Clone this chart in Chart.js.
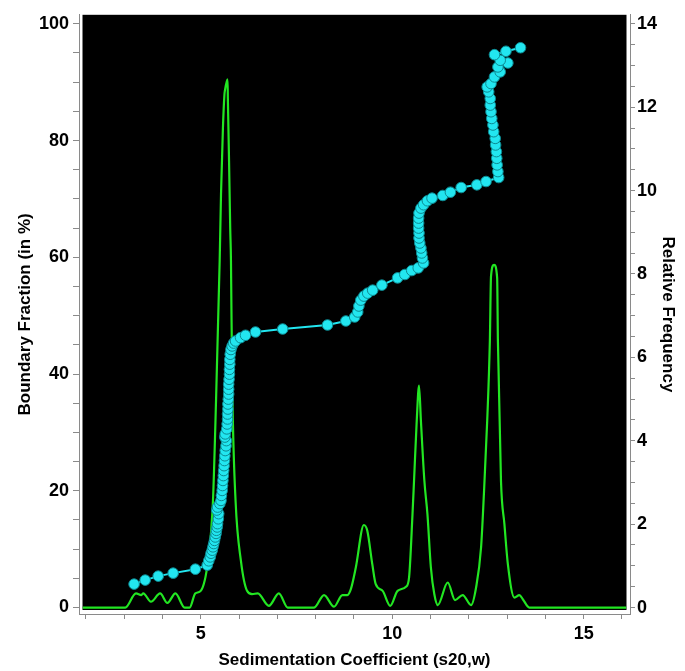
<!DOCTYPE html>
<html>
<head>
<meta charset="utf-8">
<script src="https://cdn.jsdelivr.net/npm/chart.js@4/dist/chart.umd.min.js"></script>
<style>
  html, body { margin: 0; padding: 0; background: #fff; }
  #wrap { width: 685px; height: 671px; }
</style>
</head>
<body>
<div id="wrap"><canvas id="myChart" width="685" height="671"></canvas></div>
<script>
// relative frequency (green, right axis)
const freqX = [1.92, 3.03, 3.31, 3.45, 3.50, 3.70, 3.94, 4.13, 4.34, 4.58, 4.71, 4.86, 5.00, 5.19, 5.32, 5.40,
  5.495, 5.53, 5.58, 5.62, 5.63, 5.70, 5.71, 5.74, 5.77, 5.79, 5.80, 5.83, 5.91, 6.05, 6.21, 6.34, 6.49, 6.78,
  7.04, 7.27, 7.96, 8.22, 8.48, 8.70, 8.83, 8.92, 9.05, 9.26, 9.35, 9.48, 9.57, 9.75, 9.95, 10.14, 10.36, 10.44,
  10.53, 10.57, 10.64, 10.70, 10.75, 10.84, 10.92, 11.01, 11.10, 11.19, 11.45, 11.64, 11.84, 12.06, 12.19, 12.32,
  12.39, 12.48, 12.55, 12.58, 12.66, 12.74, 12.76, 12.84, 12.93, 13.02, 13.19, 13.32, 13.41, 13.58, 16.11];
const freqY = [0, 0, 0.34, 0.30, 0.34, 0.14, 0.34, 0.11, 0.34, 0, 0, 0.34, 0.40, 1.12, 2.56, 4.96,
  8.31, 9.91, 11.5, 12.31, 12.39, 12.67, 12.15, 10.71, 9.11, 8.31, 7.35, 4.96, 2.56, 1.12, 0.40, 0.32, 0.34, 0.04,
  0.34, 0, 0, 0.30, 0.02, 0.30, 0.30, 0.44, 0.96, 1.98, 1.84, 1.04, 0.56, 0.40, 0.04, 0.40, 0.50, 0.72,
  2.24, 3.04, 4.47, 5.32, 4.47, 3.04, 2.24, 0.96, 0.32, 0.06, 0.60, 0.18, 0.30, 0.06, 0.48, 1.44,
  2.64, 4.47, 6.40, 7.95, 8.22, 7.91, 6.39, 3.04, 2.0, 1.04, 0.24, 0.30, 0.20, 0, 0];

// boundary fraction (cyan, left axis)
const fracX = [3.26, 3.55, 3.89, 4.28, 4.86, 5.17, 5.21, 5.25, 5.27, 5.30, 5.32, 5.34, 5.36, 5.38, 5.40, 5.41,
  5.43, 5.44, 5.46, 5.47, 5.42, 5.44, 5.50, 5.53, 5.54, 5.56, 5.57, 5.58, 5.59, 5.60, 5.61, 5.62, 5.63, 5.64,
  5.66, 5.67, 5.63, 5.64, 5.68, 5.69, 5.70, 5.70, 5.71, 5.71, 5.72, 5.73, 5.73, 5.73, 5.74, 5.75, 5.75, 5.76,
  5.76, 5.77, 5.79, 5.82, 5.86, 5.91, 6.04, 6.17, 6.43, 7.14, 8.31, 8.79, 9.02, 9.10, 9.13, 9.18, 9.26, 9.36,
  9.49, 9.73, 10.14, 10.33, 10.51, 10.68, 10.82, 10.79, 10.77, 10.75, 10.72, 10.70, 10.70, 10.69, 10.69, 10.69,
  10.70, 10.75, 10.82, 10.92, 11.04, 11.32, 11.52, 11.80, 12.21, 12.45, 12.78, 12.76, 12.74, 12.73, 12.72, 12.70,
  12.69, 12.65, 12.63, 12.60, 12.58, 12.56, 12.56, 12.52, 12.48, 12.58, 12.67, 12.82, 12.76, 13.02, 12.82, 12.67,
  12.97, 13.35];
const fracY = [4.01, 4.70, 5.38, 5.89, 6.57, 7.26, 8.0, 8.67, 9.3, 9.82, 10.4, 10.96, 11.5, 12.09, 12.7, 13.23,
  13.8, 14.37, 15.2, 16.08, 16.7, 17.21, 17.8, 18.35, 19.2, 20.06, 20.9, 21.77, 22.6, 23.47, 24.3, 25.18, 26.0, 26.89,
  27.7, 28.59, 29.2, 29.74, 30.6, 31.44, 32.3, 33.15, 34.0, 34.86, 35.7, 36.57, 37.4, 38.27, 39.1, 39.98, 40.8, 41.69,
  42.5, 43.39, 44.2, 44.81, 45.3, 45.66, 46.23, 46.64, 47.20, 47.71, 48.40, 49.09, 49.77, 50.63, 51.65, 52.66, 53.35, 53.86,
  54.37, 55.23, 56.47, 57.05, 57.73, 58.18, 59.03, 59.88, 60.74, 61.59, 62.44, 63.30, 64.15, 65.00, 65.86, 66.71,
  67.57, 68.42, 69.00, 69.68, 70.13, 70.59, 71.15, 71.95, 72.41, 72.98, 73.66, 74.68, 75.83, 76.96, 78.10, 79.24,
  80.37, 81.51, 82.66, 83.78, 84.93, 86.07, 87.20, 88.34, 89.19, 89.76, 90.90, 91.76, 92.61, 93.29, 93.75, 94.71,
  95.29, 95.90];

const xLabels = [5, 10, 15];

const ctx = document.getElementById("myChart").getContext("2d");

const tickFont = { family: "'Liberation Sans', Arial, sans-serif", size: 18, weight: "bold" };
const titleFont = { family: "'Liberation Sans', Arial, sans-serif", size: 17, weight: "bold" };

// black plot area, slightly inset from the axis lines
const plotBackground = {
  id: "plotBackground",
  beforeDraw(chart) {
    const c = chart.ctx;
    const a = chart.chartArea;
    c.save();
    c.fillStyle = "#fff";
    c.fillRect(0, 0, chart.width, chart.height);
    c.fillStyle = "#000";
    c.fillRect(a.left + 3.5, a.top, a.right - a.left - 7, a.bottom - a.top - 4);
    c.restore();
  },
};

new Chart(ctx, {
  type: "line",
  data: {
    datasets: [
      {
        label: "Boundary Fraction",
        data: fracX.map((x, i) => ({ x: x, y: fracY[i] })),
        yAxisID: "y",
        borderColor: "#22e6f0",
        borderWidth: 2,
        pointRadius: 5.3,
        pointBackgroundColor: "#22e6f0",
        pointBorderColor: "#0c8a92",
        pointBorderWidth: 1,
        tension: 0,
        order: 0,
      },
      {
        label: "Relative Frequency",
        data: freqX.map((x, i) => ({ x: x, y: freqY[i] })),
        yAxisID: "y1",
        borderColor: "#22e622",
        borderWidth: 2.2,
        pointRadius: 0,
        cubicInterpolationMode: "monotone",
        order: 1,
      },
    ],
  },
  options: {
    responsive: false,
    animation: false,
    layout: { padding: { top: 13, left: 0, right: 0, bottom: 0 } },
    plugins: {
      legend: { display: false },
      tooltip: { enabled: false },
    },
    scales: {
      x: {
        type: "linear",
        min: 1.822,
        max: 16.209,
        afterFit(scale) { scale.height = 57; },
        border: { display: true, color: "#8a8a8a" },
        grid: { drawOnChartArea: false, tickLength: 5, color: "#8a8a8a" },
        ticks: {
          stepSize: 1,
          includeBounds: false,
          autoSkip: false,
          maxRotation: 0,
          padding: 4,
          color: "#000",
          font: tickFont,
          callback: (v) => (xLabels.includes(v) ? String(v) : ""),
        },
        title: {
          display: true,
          text: "Sedimentation Coefficient (s20,w)",
          color: "#000",
          font: titleFont,
          padding: { top: 4, bottom: 0 },
        },
      },
      y: {
        position: "left",
        min: -1.11,
        max: 101.54,
        afterFit(scale) { scale.width = 79; },
        border: { display: true, color: "#8a8a8a" },
        grid: { drawOnChartArea: false, tickLength: 6, color: "#8a8a8a" },
        ticks: {
          stepSize: 5,
          includeBounds: false,
          autoSkip: false,
          padding: 4,
          color: "#000",
          font: tickFont,
          callback: (v) => (v % 20 === 0 ? String(v) : ""),
        },
        title: {
          display: true,
          text: "Boundary Fraction (in %)",
          color: "#000",
          font: titleFont,
          padding: { top: 15, bottom: 0 },
        },
      },
      y1: {
        position: "right",
        min: -0.155,
        max: 14.216,
        afterFit(scale) { scale.width = 55; },
        border: { display: true, color: "#8a8a8a" },
        grid: { drawOnChartArea: false, tickLength: 5, color: "#8a8a8a" },
        ticks: {
          stepSize: 0.5,
          includeBounds: false,
          autoSkip: false,
          padding: 2,
          color: "#000",
          font: tickFont,
          callback: (v) => (Math.abs(v % 2) < 1e-9 ? String(v) : ""),
        },
        title: {
          display: true,
          text: "Relative Frequency",
          color: "#000",
          font: titleFont,
          padding: { top: 7, bottom: 0 },
        },
      },
    },
  },
  plugins: [plotBackground],
});
</script>
</body>
</html>
